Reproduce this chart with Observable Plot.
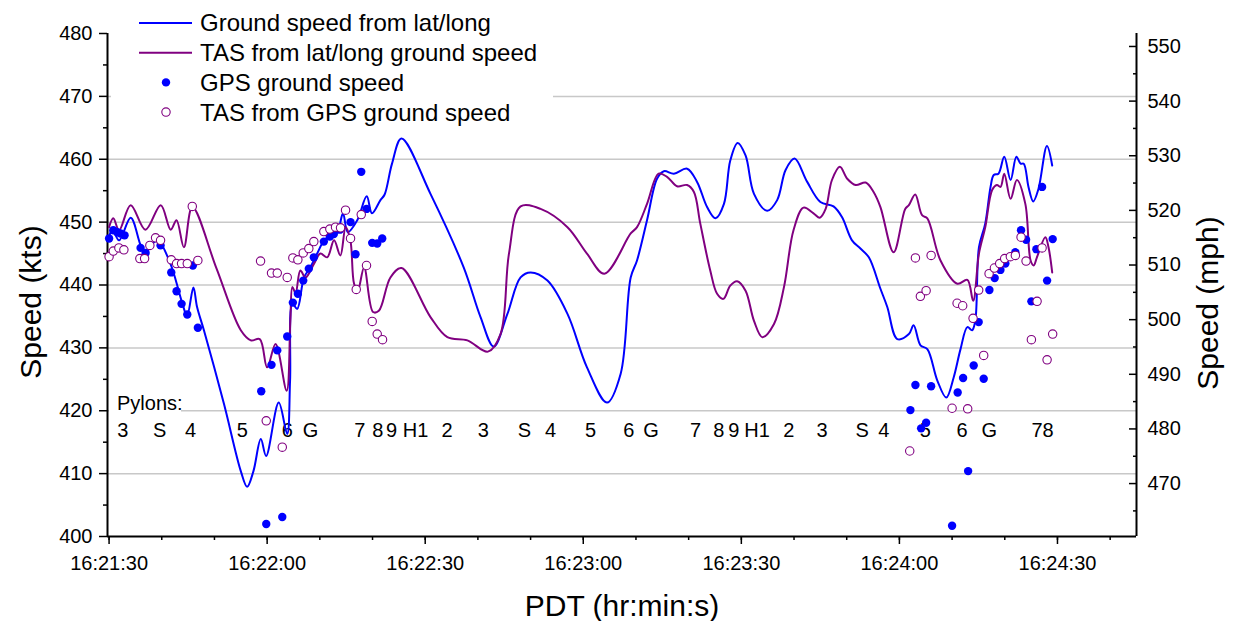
<!DOCTYPE html>
<html><head><meta charset="utf-8">
<script src="https://cdn.jsdelivr.net/npm/d3@7"></script>
<script src="https://cdn.jsdelivr.net/npm/@observablehq/plot@0.6"></script>
<style>body{margin:0;background:#fff}svg{display:block}</style>
</head><body><div id="chart"></div>
<script>
// time values are seconds after 16:21:30 PDT; speeds in knots
const BASE_SECONDS = 16*3600 + 21*60 + 30;
const KTS_TO_MPH = 1.15078;

// Ground speed from lat/long (line)
const groundLL = [[0,447.4],[0.6,449.0],[1.9,447.1],[4.1,450.7],[6.0,446.3],[6.9,445.0],[8.2,446.6],[9.5,447.1],[10.1,446.3],[11.4,443.9],[12.3,441.8],[13.2,439.1],[13.9,437.1],[14.8,435.1],[16.0,439.6],[16.7,436.5],[18.0,432.8],[21.8,421.1],[25.0,410.4],[26.2,407.9],[27.4,410.4],[28.8,415.5],[29.8,412.8],[32.2,421.3],[33.8,416.3],[34.35,424.8],[34.8,437.0],[35.7,436.2],[37.0,441.2],[38.2,442.8],[39.5,445.0],[40.8,447.1],[42.0,447.9],[43.3,448.4],[44.4,451.4],[45.3,448.4],[47.1,450.3],[48.9,454.1],[49.9,451.4],[51.5,453.5],[52.3,454.4],[53.7,459.3],[55.5,463.3],[61.0,454.5],[67.3,442.8],[70.5,434.9],[73.0,430.2],[75.6,435.4],[78.1,441.2],[80.0,442.0],[83.2,440.7],[87.0,435.4],[90.7,426.9],[94.5,421.3],[97.1,425.9],[99.0,441.2],[100.2,443.9],[102.1,450.3],[104.0,456.9],[105.3,458.1],[107.2,457.7],[109.7,458.5],[111.6,456.4],[113.5,452.4],[115.1,450.6],[116.7,452.9],[117.9,459.8],[119.3,462.6],[120.8,460.6],[122.4,454.5],[124.9,451.8],[126.8,453.5],[128.4,458.3],[130.1,460.1],[132.5,456.4],[135.0,453.2],[137.5,452.5],[139.1,450.8],[141.0,447.1],[142.6,445.8],[144.2,444.4],[146.4,439.4],[147.7,436.5],[149.6,431.4],[151.8,432.2],[152.7,433.6],[154.0,430.4],[155.3,429.8],[157.2,424.8],[158.9,422.1],[160.3,425.3],[161.6,429.8],[162.9,433.3],[163.8,432.8],[164.4,434.3],[165.1,446.0],[166.3,449.8],[167.3,455.6],[167.9,457.5],[168.8,457.7],[169.9,460.4],[171.1,456.7],[172.2,460.4],[173.0,459.3],[173.6,459.3],[174.5,455.6],[175.4,453.3],[176.4,455.3],[178.0,462.1],[179.0,459.0]];

// TAS from lat/long ground speed (line)
const tasLL = [[0,449.2],[0.8,450.6],[1.9,448.7],[4.1,452.7],[6.9,448.8],[9.8,452.7],[11.7,448.8],[12.8,450.3],[14.2,446.0],[15.8,452.4],[20.4,442.6],[25.0,432.8],[26.9,431.2],[28.6,431.4],[30.0,426.9],[31.6,430.6],[33.7,423.2],[34.4,434.3],[34.8,439.7],[35.4,438.7],[36.3,442.3],[37.3,441.2],[38.9,443.4],[40.1,445.0],[41.4,444.4],[42.7,447.1],[43.9,444.7],[44.9,449.2],[45.8,447.1],[46.5,440.2],[47.2,439.1],[48.4,442.8],[50.1,435.7],[51.2,435.9],[53.4,441.2],[55.5,442.7],[61.0,434.9],[64.2,431.7],[68.0,431.2],[71.9,429.4],[74.3,432.2],[75.9,445.0],[78.1,452.5],[81.9,452.1],[87.0,449.2],[90.7,445.0],[94.0,441.8],[99.0,448.2],[100.2,449.2],[102.1,452.9],[104.3,457.7],[105.9,457.2],[107.8,455.7],[109.7,455.9],[111.0,454.8],[112.2,449.8],[114.1,442.3],[115.4,438.6],[116.6,437.8],[117.9,439.9],[119.2,440.6],[120.8,439.1],[122.4,434.3],[124.0,431.7],[126.2,433.8],[128.1,439.7],[129.9,448.7],[131.8,452.3],[133.7,451.4],[134.9,450.7],[136.0,452.1],[137.2,456.7],[138.7,458.8],[140.1,456.9],[141.7,455.9],[143.6,456.3],[145.1,454.8],[146.4,452.4],[148.9,445.2],[151.1,452.1],[151.8,452.7],[153.0,454.4],[154.3,451.1],[155.3,450.6],[157.8,443.9],[161.0,440.2],[162.9,440.8],[164.0,437.5],[165.1,445.0],[166.3,449.2],[167.6,455.1],[168.5,455.9],[169.2,455.6],[169.9,457.7],[171.1,453.7],[172.3,456.7],[173.9,452.9],[174.9,443.9],[175.5,443.1],[176.1,444.4],[177.7,447.6],[178.3,446.0],[179.0,442.0]];

// GPS ground speed (filled dots)
const gpsSpeed = [[0,447.4],[0.8,448.7],[1.56,448.4],[2.18,448.2],[2.94,447.9],[5.98,445.9],[6.93,445.1],[9.77,446.3],[11.8,442.0],[12.81,439.0],[13.76,437.0],[14.84,435.3],[15.9,443.1],[16.85,433.2],[28.88,423.1],[29.83,402.0],[30.83,427.3],[31.92,429.6],[32.87,403.1],[33.81,431.8],[34.88,437.2],[35.83,438.6],[36.85,440.7],[37.91,442.6],[38.86,444.4],[40.76,446.9],[41.9,447.7],[42.66,448.1],[43.8,448.8],[45.83,450.0],[46.77,444.9],[47.86,458.0],[48.86,452.1],[49.94,446.7],[50.89,446.6],[51.84,447.4],[152.09,420.1],[153.04,424.1],[154.12,417.2],[155.07,418.1],[156.02,423.9],[160.0,401.7],[161.06,422.9],[162.09,425.2],[163.04,410.4],[164.1,427.2],[165.05,434.1],[166.0,425.1],[167.08,439.2],[168.08,441.1],[169.17,442.4],[170.11,443.4],[172.01,445.2],[173.09,448.7],[174.04,447.2],[175.05,437.4],[176.0,445.7],[177.08,455.6],[178.03,440.7],[179.09,447.3]];

// TAS from GPS ground speed (open circles)
const tasGps = [[0,444.5],[0.8,445.4],[1.86,445.9],[2.81,445.6],[5.84,444.2],[6.74,444.2],[7.74,446.3],[8.82,447.5],[9.77,447.1],[11.8,444.0],[12.81,443.4],[13.76,443.4],[14.84,443.4],[15.79,452.5],[16.85,443.9],[28.75,443.8],[29.83,418.4],[30.83,441.9],[31.92,441.9],[32.87,414.2],[33.81,441.2],[34.88,444.3],[35.83,444.0],[36.85,445.1],[37.91,445.8],[38.86,446.9],[40.76,448.5],[41.9,448.9],[42.98,449.2],[43.93,449.1],[44.88,451.9],[45.83,447.4],[46.91,439.3],[47.86,451.2],[48.86,443.1],[49.94,434.2],[50.89,432.2],[51.9,431.3],[151.96,413.6],[153.04,444.3],[153.98,438.2],[155.07,439.1],[156.02,444.7],[160.0,420.4],[160.95,437.1],[162.01,436.7],[162.96,420.3],[163.98,434.7],[165.05,439.2],[166.0,428.8],[167.02,441.8],[168.03,442.7],[169.03,443.4],[169.98,444.2],[171.06,444.5],[172.01,444.7],[173.09,447.6],[174.04,443.8],[175.05,431.3],[176.13,437.4],[177.08,445.9],[178.03,428.1],[179.09,432.2]];

// pylon passings
const pylonNames = ["3","S","4","5","6","G","7","8","9","H1","2","3","S","4","5","6","G","7","8","9","H1","2","3","S","4","5","6","G","7","8"];
const pylonTimes = [2.62,9.58,15.46,25.28,33.81,38.24,47.59,51.01,53.61,58.16,64.17,71.01,78.84,83.78,91.37,98.63,102.88,111.29,115.71,118.56,123.0,129.0,135.33,142.92,147.02,154.93,161.9,167.08,176.13,178.22];
const pylonLevel = 416.8;

// ticks
const xMajor = [0,30,60,90,120,150,180];
const xMinor = d3.range(0,195,10);
const yMajor = [400,410,420,430,440,450,460,470,480];
const yMinor = [405,415,425,435,445,455,465,475];
const yGrid = [410,420,430,440,450,460,470];
const mphMajor = [470,480,490,500,510,520,530,540,550];
const mphMinor = [465,475,485,495,505,515,525,535,545];

const xDomain = [-0.3, 195];
const fmtTime = s => {
  const tot = BASE_SECONDS + s;
  const h = Math.floor(tot/3600), m = Math.floor((tot%3600)/60), sec = tot%60;
  return `${h}:${String(m).padStart(2,"0")}:${String(sec).padStart(2,"0")}`;
};

const BLUE = "#0000ff", PURPLE = "#800080";
const DOT_R = 4.2;
const rowsLine = (arr) => arr.map(([t,v]) => ({t, v}));
const pylons = pylonNames.map((n,i) => ({n, t: pylonTimes[i], v: pylonLevel}));

const plot = Plot.plot({
  width: 1233, height: 621,
  marginLeft: 107, marginRight: 97, marginTop: 33, marginBottom: 85,
  style: {fontFamily: "'Liberation Sans', Arial, sans-serif", fontSize: "20px", color: "black", background: "white", overflow: "visible"},
  x: {domain: xDomain},
  y: {domain: [400, 480]},
  marks: [
    Plot.gridY(yGrid, {stroke: "#c8c8c8", strokeOpacity: 1, strokeWidth: 1.5}),
    Plot.axisX(xMajor, {tickSize: 8, tickPadding: 11, tickFormat: fmtTime, label: null, strokeWidth: 1.5}),
    Plot.axisX(xMinor, {tickSize: 4, fill: "none", label: null, strokeWidth: 1.5}),
    Plot.axisY(yMajor, {anchor: "left", tickSize: 8, tickPadding: 7, label: null, strokeWidth: 1.5}),
    Plot.axisY(yMinor, {anchor: "left", tickSize: 4, fill: "none", label: null, strokeWidth: 1.5}),
    Plot.axisY(mphMajor.map(m => m / KTS_TO_MPH), {anchor: "right", tickSize: -8, tickPadding: 19, tickFormat: d => Math.round(d * KTS_TO_MPH), textAnchor: "start", label: null, strokeWidth: 1.5}),
    Plot.axisY(mphMinor.map(m => m / KTS_TO_MPH), {anchor: "right", tickSize: -4, fill: "none", label: null, strokeWidth: 1.5}),
    Plot.ruleX([xDomain[0]], {strokeWidth: 2}),
    Plot.ruleX([xDomain[1]], {strokeWidth: 2}),
    Plot.ruleY([400], {strokeWidth: 2}),
    Plot.text(pylons, {x: "t", y: "v", text: "n", fontSize: 20, fill: "black"}),
    Plot.line(rowsLine(groundLL), {x: "t", y: "v", stroke: BLUE, strokeWidth: 2, curve: "catmull-rom"}),
    Plot.line(rowsLine(tasLL), {x: "t", y: "v", stroke: PURPLE, strokeWidth: 2, curve: "catmull-rom"}),
    Plot.dot(rowsLine(gpsSpeed), {x: "t", y: "v", r: DOT_R, fill: BLUE, stroke: "none"}),
    Plot.dot(rowsLine(tasGps), {x: "t", y: "v", r: DOT_R, fill: "white", stroke: PURPLE, strokeWidth: 1.1})
  ]
});

document.getElementById("chart").appendChild(plot);

// annotations: legend, "Pylons:", axis titles
const svg = d3.select(plot);
const font = "'Liberation Sans', Arial, sans-serif";
const lg = svg.append("g").attr("font-family", font).attr("font-size", 24).attr("text-anchor", "start");
lg.append("rect").attr("x", 111).attr("y", 0).attr("width", 442).attr("height", 126).attr("fill", "white");
const legendRows = [
  {label: "Ground speed from lat/long", kind: "line", color: BLUE},
  {label: "TAS from lat/long ground speed", kind: "line", color: PURPLE},
  {label: "GPS ground speed", kind: "dot", color: BLUE},
  {label: "TAS from GPS ground speed", kind: "circle", color: PURPLE}
];
legendRows.forEach((r, i) => {
  const cy = 23 + i * 29.7;
  if (r.kind === "line") {
    lg.append("line").attr("x1", 139).attr("x2", 192).attr("y1", cy).attr("y2", cy).attr("stroke", r.color).attr("stroke-width", 2);
  } else if (r.kind === "dot") {
    lg.append("circle").attr("cx", 166).attr("cy", cy).attr("r", DOT_R).attr("fill", r.color);
  } else {
    lg.append("circle").attr("cx", 166).attr("cy", cy).attr("r", DOT_R).attr("fill", "white").attr("stroke", r.color).attr("stroke-width", 1.1);
  }
  lg.append("text").attr("x", 200).attr("y", cy).attr("dy", "0.35em").attr("fill", "black").attr("text-anchor", "start").text(r.label);
});

const py = svg.append("g").attr("font-family", font).attr("font-size", 20).attr("text-anchor", "start");
py.append("rect").attr("x", 109).attr("y", 394).attr("width", 72).attr("height", 22).attr("fill", "white");
py.append("text").attr("x", 117).attr("y", 403).attr("dy", "0.35em").attr("text-anchor", "start").text("Pylons:");

const titles = svg.append("g").attr("font-family", font).attr("font-size", 30).attr("text-anchor", "middle").attr("fill", "black");
titles.append("text").attr("transform", "translate(30,302) rotate(-90)").attr("dy", "0.35em").text("Speed (kts)");
titles.append("text").attr("transform", "translate(1207,303) rotate(-90)").attr("dy", "0.35em").text("Speed (mph)");
titles.append("text").attr("x", 622).attr("y", 605).attr("dy", "0.35em").text("PDT (hr:min:s)");
</script>
</body></html>
